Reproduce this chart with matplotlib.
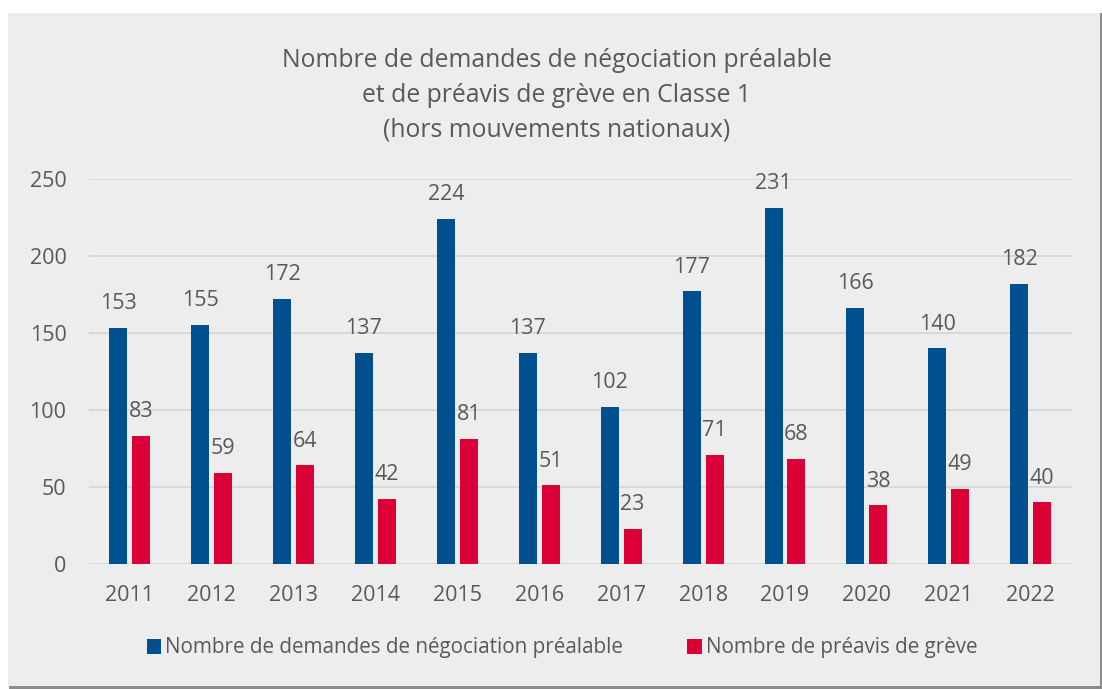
import matplotlib.pyplot as plt
import numpy as np
from matplotlib.patches import Rectangle

# Data
years = ["2011", "2012", "2013", "2014", "2015", "2016",
         "2017", "2018", "2019", "2020", "2021", "2022"]
negociation = [153, 155, 172, 137, 224, 137, 102, 177, 231, 166, 140, 182]
preavis = [83, 59, 64, 42, 81, 51, 23, 71, 68, 38, 49, 40]

blue = "#00508F"
red = "#DA0037"
text_color = "#595959"
bg = "#EDEDED"

plt.rcParams["font.family"] = ["Open Sans", "DejaVu Sans"]

fig = plt.figure(figsize=(11.02, 6.89), dpi=100)
fig.patch.set_facecolor("white")

# panel with a darker edge on the right/bottom
fig.patches.append(Rectangle((9 / 1102, 0), 1093 / 1102, 676 / 689,
                             transform=fig.transFigure, facecolor="#8C8C8C",
                             edgecolor="none", zorder=-10))
fig.patches.append(Rectangle((8 / 1102, 1 - 686 / 689), 1092 / 1102, 673 / 689,
                             transform=fig.transFigure, facecolor=bg,
                             edgecolor="none", zorder=-9))

ax = fig.add_axes([88.7 / 1102, 1 - 564 / 689, 983 / 1102, 385 / 689])
ax.set_facecolor("none")
ax.set_zorder(2)

x = np.arange(len(years))
w = 0.22
gap = 0.06
b1 = ax.bar(x - (w + gap) / 2, negociation, w, color=blue, zorder=3,
            label="Nombre de demandes de négociation préalable")
b2 = ax.bar(x + (w + gap) / 2, preavis, w, color=red, zorder=3,
            label="Nombre de préavis de grève")

for bars, vals in ((b1, negociation), (b2, preavis)):
    for rect, v in zip(bars, vals):
        ax.annotate(str(v), (rect.get_x() + rect.get_width() / 2, v),
                    xytext=(0, 10), textcoords="offset points",
                    ha="center", va="bottom", fontsize=15.5, color=text_color)

ax.set_xlim(-0.5, len(years) - 0.5)
ax.set_ylim(0, 250)
ax.set_yticks(range(0, 251, 50))
ax.set_xticks(x)
ax.set_xticklabels(years)
ax.tick_params(axis="both", length=0, labelsize=15.5, labelcolor=text_color)
ax.tick_params(axis="y", pad=16)
ax.tick_params(axis="x", pad=15)
ax.grid(axis="y", color="#D4D4D4", linewidth=1.2, zorder=0)
for s in ax.spines.values():
    s.set_visible(False)

fig.text(557 / 1102, 1 - 95.5 / 689,
         "Nombre de demandes de négociation préalable\n"
         "et de préavis de grève en Classe 1\n"
         "(hors mouvements nationaux)",
         ha="center", va="center", fontsize=17.8, color=text_color,
         linespacing=1.51)

fig.legend(handles=[b1, b2], loc="center", bbox_to_anchor=(562 / 1102, 1 - 648 / 689),
           ncol=2, frameon=False, fontsize=14.85, labelcolor=text_color,
           handlelength=0.7, handleheight=0.7, handletextpad=0.2, columnspacing=3.1)

fig.savefig("out.png", dpi=100, facecolor=fig.get_facecolor())
